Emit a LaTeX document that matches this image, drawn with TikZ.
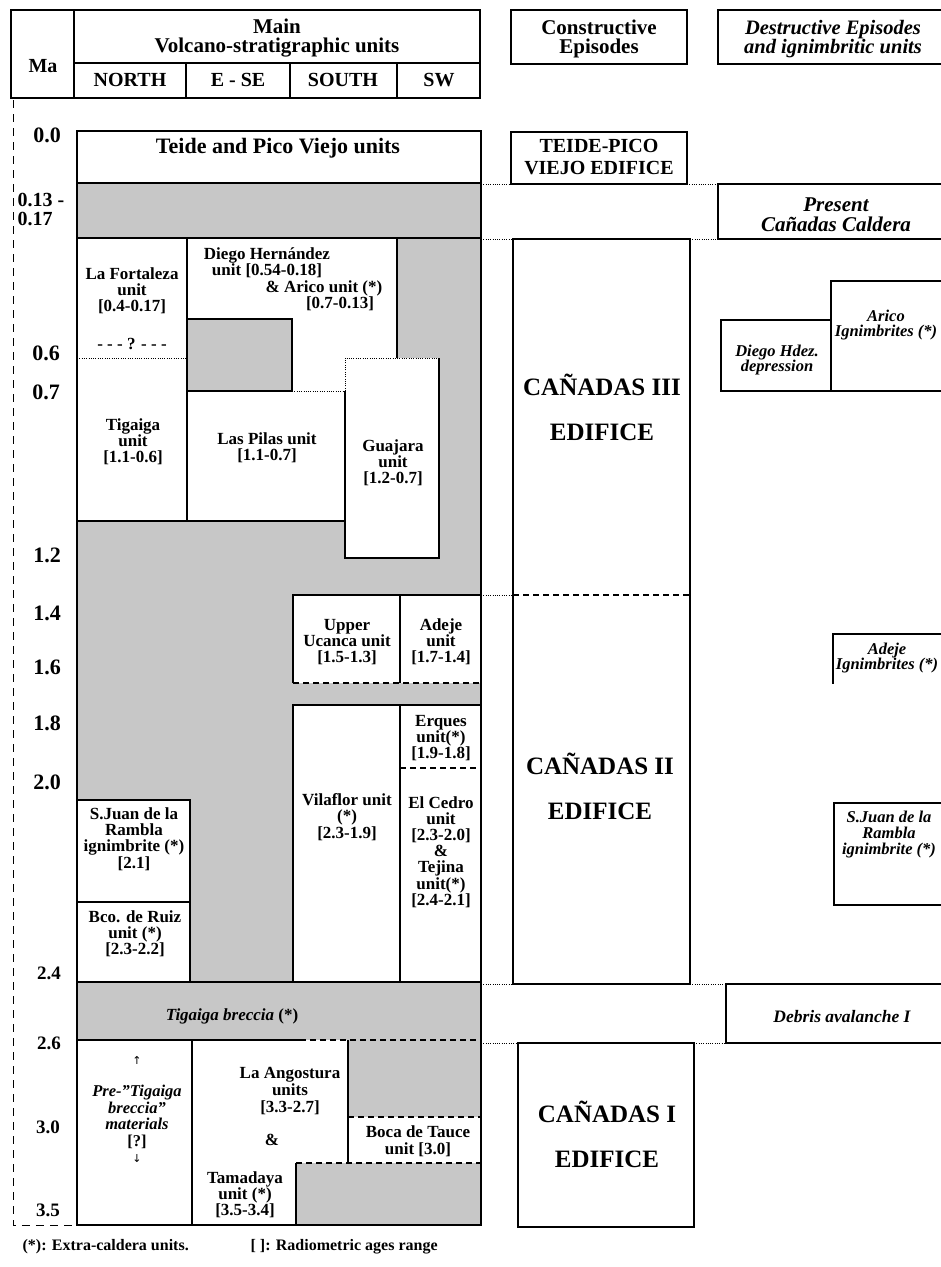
\documentclass[tikz,border=0pt]{standalone}
\usepackage{fontspec}
\setmainfont{Liberation Serif}
\newfontfamily\symfont{DejaVu Sans}
\newcommand\fsz[2]{\fontsize{#1}{#2}\selectfont}
\begin{document}
\begin{tikzpicture}[x=1pt,y=-1pt,line width=1.2pt,
  shade/.style={fill=black!22},
  dotln/.style={line width=0.9pt,dash pattern=on 1pt off 1.3pt},
  dashln/.style={dash pattern=on 6pt off 4pt},
  leftdash/.style={line width=1pt,dash pattern=on 8pt off 6pt},
  txt/.style={inner sep=0pt,align=center,font=\bfseries\fsz{17}{16.2}},
  hdr/.style={inner sep=0pt,align=center,font=\bfseries\fsz{20}{19}},
  ital/.style={inner sep=0pt,align=center,font=\bfseries\itshape\fsz{16.5}{15}},
  big/.style={inner sep=0pt,align=center,font=\bfseries\fsz{25}{45}},
  ma/.style={inner sep=0pt,font=\bfseries\fsz{22}{22}},
  mas/.style={inner sep=0pt,font=\bfseries\fsz{19}{19}}]
\useasboundingbox (0,0) rectangle (941,1267);
\clip (0,0) rectangle (941,1267);
\fill[white] (0,0) rectangle (941,1267);

% ---------- header ----------
\draw (11,10) rectangle (480,98);
\draw (74,10) -- (74,98);
\draw (74,63) -- (480,63);
\draw (186,63) -- (186,98);
\draw (290,63) -- (290,98);
\draw (397,63) -- (397,98);
\node[hdr,font=\bfseries\fsz{21}{19}] (hmain) at (277,38.5) {Main\\Volcano-stratigraphic units};
\node[hdr] (hma) at (43,66) {Ma};
\node[hdr] (hn) at (130,80) {NORTH};
\node[hdr] (he) at (238,80) {E - SE};
\node[hdr] (hs) at (343,80) {SOUTH};
\node[hdr] (hsw) at (439,80) {SW};

% ---------- left dashed axis ----------
\draw[leftdash] (13,100) -- (13,1225) -- (77,1225);

% ---------- Ma labels ----------
\node[ma] (m00) at (47,135) {0.0};
\node[inner sep=0pt,anchor=west,align=left,font=\bfseries\fsz{20}{18.5}] (m013) at (17,209.5) {0.13 -\\0.17};
\node[ma] (m06) at (46,353) {0.6};
\node[ma] (m07) at (46,392) {0.7};
\node[ma] (m12) at (47,555) {1.2};
\node[ma] (m14) at (47,613) {1.4};
\node[ma] (m16) at (47,667) {1.6};
\node[ma] (m18) at (47,723) {1.8};
\node[ma] (m20) at (47,782) {2.0};
\node[mas] (m24) at (49,973) {2.4};
\node[mas] (m26) at (49,1043) {2.6};
\node[mas] (m30) at (48,1127) {3.0};
\node[mas] (m35) at (48,1210) {3.5};

% ---------- main chart fills ----------
\fill[shade] (77,183) rectangle (481,1225);
\fill[white] (77,238) rectangle (187,521);
\fill[white] (187,238) rectangle (397,391);
\fill[white] (187,391) rectangle (345,521);
\fill[white] (345,358) rectangle (439,558);
\fill[shade] (187,319) rectangle (292,391);
\fill[white] (293,595) rectangle (481,683);
\fill[white] (293,705) rectangle (481,982);
\fill[white] (77,800) rectangle (190,982);
\fill[white] (77,1040) rectangle (348,1225);
\fill[shade] (296,1163) rectangle (348,1225);
\fill[white] (348,1117) rectangle (481,1163);

% ---------- main chart lines ----------
\draw[fill=white] (77,131) rectangle (481,183);
\draw (77,183) rectangle (481,1225);
\draw (77,238) -- (481,238);
\draw (187,238) -- (187,521);
\draw (397,238) -- (397,358);
\draw (187,319) rectangle (292,391);
\draw (345,391) -- (345,558) -- (439,558) -- (439,358);
\draw (77,521) -- (345,521);
\draw[dotln] (77,358) -- (187,358);
\draw[dotln] (345,391) -- (345,358) -- (439,358);
\draw[dotln] (292,391) -- (345,391);
\draw (293,683) -- (293,595) -- (481,595);
\draw (400,595) -- (400,683);
\draw[dashln] (293,683) -- (481,683);
\draw (293,982) -- (293,705) -- (481,705);
\draw (400,705) -- (400,982);
\draw[dashln] (400,768) -- (481,768);
\draw (77,800) -- (190,800) -- (190,982);
\draw (77,902) -- (190,902);
\draw (77,982) -- (481,982);
\draw (77,1040) -- (300,1040);
\draw[dashln] (300,1040) -- (481,1040);
\draw (192,1040) -- (192,1225);
\draw (348,1040) -- (348,1163);
\draw (296,1163) -- (296,1225);
\draw[dashln] (348,1117) -- (481,1117);
\draw[dashln] (296,1163) -- (481,1163);

% ---------- main chart texts ----------
\node[hdr,font=\bfseries\fsz{22}{22}] (teide) at (278,148) {Teide and Pico Viejo units};
\node[txt] (fort) at (132,291) {La Fortaleza\\unit\\{[0.4-0.17]}};
\node[txt] (fortq) at (132,344) {- - - ? - - -};
\node[txt] (diego1) at (267,263) {Diego Hernández\\unit [0.54-0.18]};
\node[txt] (diego2) at (324,288) {\& Arico unit (*)};
\node[txt] (diego3) at (340,304) {[0.7-0.13]};
\node[txt] (tig) at (133,442) {Tigaiga\\unit\\{[1.1-0.6]}};
\node[txt] (pilas) at (267,447.5) {Las Pilas unit\\{[1.1-0.7]}};
\node[txt] (guaj) at (393,463) {Guajara\\unit\\{[1.2-0.7]}};
\node[txt] (ucan) at (347,642) {Upper\\Ucanca unit\\{[1.5-1.3]}};
\node[txt] (adeje) at (441,642) {Adeje\\unit\\{[1.7-1.4]}};
\node[txt] (erq) at (441,738) {Erques\\unit(*)\\{[1.9-1.8]}};
\node[txt] (vila) at (347,817) {Vilaflor unit\\(*)\\{[2.3-1.9]}};
\node[txt] (cedro) at (441,852) {El Cedro\\unit\\{[2.3-2.0]}\\\&\\Tejina\\unit(*)\\{[2.4-2.1]}};
\node[txt] (sjuan) at (134,839) {S.Juan de la\\Rambla\\ignimbrite (*)\\{[2.1]}};
\node[txt] (bco) at (135,934) {Bco. de Ruiz\\unit (*)\\{[2.3-2.2]}};
\node[txt] (brec) at (232,1016) {\textit{Tigaiga breccia} (*)};
\node[inner sep=0pt,font=\symfont\fsz{11}{11}] (arrup) at (137,1060) {↑};
\node[txt,font=\bfseries\itshape\fsz{16.5}{16.7}] (pre) at (137,1117) {Pre-"Tigaiga\\breccia"\\materials\\{\upshape[?]}};
\node[inner sep=0pt,font=\symfont\fsz{11}{11}] (arrdn) at (137,1158) {↓};
\node[txt,font=\bfseries\fsz{17}{17}] (ango) at (290,1091) {La Angostura\\units\\{[3.3-2.7]}};
\node[txt] (amp) at (272,1140) {\&};
\node[txt] (tama) at (245,1195) {Tamadaya\\unit (*)\\{[3.5-3.4]}};
\node[txt,font=\bfseries\fsz{17}{17}] (boca) at (418,1141) {Boca de Tauce\\unit [3.0]};

% ---------- constructive episodes ----------
\draw (511,10) rectangle (687,64);
\node[hdr,font=\bfseries\fsz{21}{19}] (cons) at (599,39) {Constructive\\Episodes};
\draw (511,132) rectangle (687,184);
\node[hdr,font=\bfseries\fsz{20}{22}] (tpv) at (599,157) {TEIDE-PICO\\VIEJO EDIFICE};
\draw (513,239) rectangle (690,984);
\draw[dashln] (513,595) -- (690,595);
\node[big] (c3) at (602,407) {CAÑADAS III\\EDIFICE};
\node[big] (c2) at (600,786) {CAÑADAS II\\EDIFICE};
\draw (518,1043) rectangle (694,1227);
\node[big] (c1) at (607,1134) {CAÑADAS I\\EDIFICE};

% ---------- dotted links ----------
\draw[dotln] (481,184) -- (511,184);
\draw[dotln] (687,184) -- (718,184);
\draw[dotln] (481,239) -- (513,239);
\draw[dotln] (690,239) -- (718,239);
\draw[dotln] (481,595) -- (513,595);
\draw[dotln] (481,984) -- (513,984);
\draw[dotln] (690,984) -- (726,984);
\draw[dotln] (481,1043) -- (518,1043);
\draw[dotln] (694,1043) -- (726,1043);

% ---------- destructive episodes ----------
\draw (718,10) rectangle (960,64);
\node[hdr,font=\bfseries\itshape\fsz{20.5}{19}] (dest) at (833,39) {Destructive Episodes\\and ignimbritic units};
\draw (718,184) rectangle (960,239);
\node[hdr,font=\bfseries\itshape\fsz{21}{20}] (pres) at (836,215) {Present\\Cañadas Caldera};
\draw (721,320) rectangle (831,391);
\node[ital] (dhd) at (777,360) {Diego Hdez.\\depression};
\draw (831,281) rectangle (960,391);
\node[ital] (arico) at (886,325) {Arico\\Ignimbrites (*)};
\draw (960,634) -- (833,634) -- (833,684);
\node[ital] (adig) at (887,658) {Adeje\\Ignimbrites (*)};
\draw (834,803) rectangle (960,905);
\node[ital,font=\bfseries\itshape\fsz{16.5}{16}] (sjig) at (889,835) {S.Juan de la\\Rambla\\ignimbrite (*)};
\draw (726,984) rectangle (960,1043);
\node[ital,font=\bfseries\itshape\fsz{17.5}{16}] (debris) at (842,1017) {Debris avalanche I};

% ---------- footnote ----------
\node[inner sep=0pt,anchor=west,font=\bfseries\fsz{16}{16}] (fn1) at (22,1247) {(*): Extra-caldera units.};
\node[inner sep=0pt,anchor=west,font=\bfseries\fsz{16}{16}] (fn2) at (250,1247) {[ ]: Radiometric ages range};
\end{tikzpicture}
\end{document}
